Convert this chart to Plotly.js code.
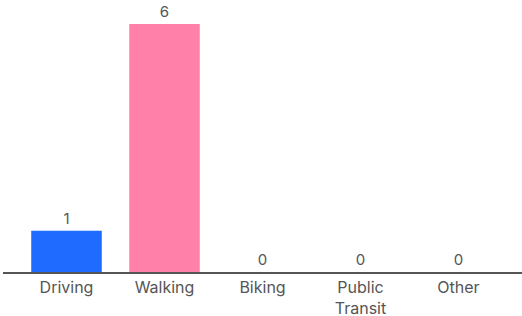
<!DOCTYPE html>
<html><head><meta charset="utf-8">
<script src="https://cdn.plot.ly/plotly-3.0.1.min.js"></script>
<style>html,body{margin:0;padding:0;background:#fff}#chart{width:522px;height:316px}</style>
</head><body><div id="chart"></div>
<script>
const categories = ["Driving", "Walking", "Biking", "Public<br>Transit", "Other"];
const values = [1, 6, 0, 0, 0];
const colors = ["#1f6bff", "#ff80a8", "#9aa0ff", "#9aa0ff", "#9aa0ff"];

Plotly.newPlot("chart", [{
  type: "bar",
  x: categories,
  y: values,
  marker: {color: colors},
  text: values.map(String),
  textposition: "outside",
  cliponaxis: false,
  textfont: {family: "Inter, sans-serif", size: 15, color: "#555"},
  hoverinfo: "none"
}], {
  width: 522, height: 316,
  margin: {l: 3, r: 0, t: 24, b: 44},
  bargap: 0.28,
  paper_bgcolor: "#fff", plot_bgcolor: "#fff",
  showlegend: false,
  font: {family: "Inter, sans-serif", size: 16, color: "#555"},
  xaxis: {range: [-0.648, 4.648], showline: true, linecolor: "#555", linewidth: 2,
          ticks: "", showgrid: false, zeroline: false, fixedrange: true,
          tickfont: {size: 16, color: "#555"}},
  yaxis: {range: [0, 6], visible: false, showgrid: false, zeroline: false, fixedrange: true}
}, {displayModeBar: false, staticPlot: true});
</script></body></html>
